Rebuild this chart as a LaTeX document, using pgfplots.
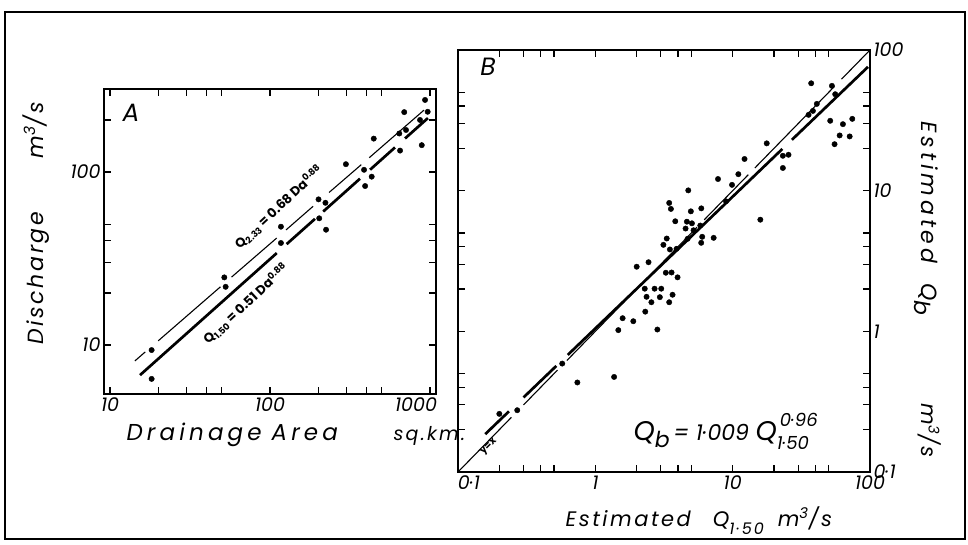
\documentclass[border=0pt]{standalone}
\usepackage{fontspec}
\setmainfont{Poppins}
\newfontfamily\lab{Poppins}[LetterSpace=12]
\newfontfamily\labw{Poppins}[LetterSpace=18]
\usepackage{pgfplots}
\usepackage{pgfplotstable}
\pgfplotsset{compat=1.18}

% panel A: drainage area (sq.km) vs discharge (m3/s)
\pgfplotstableread{
x y
18.2 9.35
18.2 6.37
51.8 24.6
52.8 21.7
117 48.3
117 38.9
201 69.5
222 66.4
203 54.0
224 46.4
298 111
387 103
393 83
432 94
445 156
643 167
650 133
690 222
708 175
866 200
888 143
931 261
967 223
}\ptsA

% panel B: estimated Q1.50 vs estimated Qb
\pgfplotstableread{
x y
37.3 58.0
52.8 55.6
55.8 48.5
41.0 41.4
38.4 36.9
35.7 34.6
51.3 31.4
74.3 32.4
63.5 29.7
60.1 24.7
71.1 24.3
55.2 21.4
17.7 21.7
23.2 17.7
25.5 18.0
23.2 14.5
12.2 16.8
11.0 13.1
9.89 11.0
7.82 12.1
8.94 8.4
15.9 6.22
4.75 10.05
3.45 8.18
3.55 7.42
4.96 7.13
5.91 7.49
3.82 6.06
4.64 6.02
5.05 5.86
4.54 5.38
5.19 5.23
5.81 5.65
7.27 4.62
4.7 4.55
6.0 4.70
5.9 4.26
3.31 4.57
3.13 4.12
3.49 3.82
3.90 3.86
2.0 2.88
2.44 3.1
3.26 2.61
3.59 2.62
3.97 2.42
2.29 2.01
2.70 2.01
3.02 2.01
2.36 1.76
2.95 1.75
3.65 1.82
2.56 1.61
3.45 1.61
2.31 1.38
1.58 1.24
1.89 1.18
1.47 1.02
2.83 1.03
1.37 0.474
0.74 0.433
0.574 0.59
0.27 0.275
0.20 0.259
}\ptsB

\tikzset{
  dotmk/.style={only marks, mark=*, mark size=2.7pt, black},
  heavyln/.style={black, line width=2.7pt, no marks},
  lightln/.style={black, line width=1.1pt, no marks},
}

\begin{document}
\begin{tikzpicture}
\useasboundingbox (0pt,0pt) rectangle (968pt,544pt);
\draw[line width=1.6pt] (5pt,532pt) rectangle (965pt,5pt);

\begin{axis}[xmode=log, ymode=log, scale only axis,
  axis line style={line width=2pt},
  tick align=inside,
  major tick length=7pt, minor tick length=7pt,
  tick style={line width=1.2pt, black},
  tick label style={font=\itshape\fontsize{19}{19}\selectfont},
  at={(104pt,150pt)}, anchor=south west,
  width=332pt, height=305pt,
  xmin=9.17, xmax=1090, ymin=5.21, ymax=302,
  xtick={10,100,1000}, xticklabels={10,100,\hspace*{-28pt}1000},
  minor xtick={20,30,40,50,200,300,400,500},
  ytick={10,100}, yticklabels={10,100},
  minor ytick={20,30,40,50,200}]
\addplot[dotmk] table {\ptsA};
% Q2.33 line, thin, broken at the points
\addplot[lightln] coordinates {(14.3,8.09) (16.6,9.12)};
\addplot[lightln] coordinates {(20,10.57) (49,21.7)};
\addplot[lightln] coordinates {(57.5,24.7) (110,41.5)};
\addplot[lightln] coordinates {(126,46.3) (186,63.4)};
\addplot[lightln] coordinates {(234,76.2) (372,110.3)};
\addplot[lightln] coordinates {(417,121) (917,228)};
% Q1.50 line, thick
\addplot[heavyln] coordinates {(15.4,6.70) (110.2,34.0)};
\addplot[heavyln] coordinates {(127,38.3) (191,53.6)};
\addplot[heavyln] coordinates {(215,59.1) (365,91.5)};
\addplot[heavyln] coordinates {(422,103.1) (604,138.7)};
\addplot[heavyln] coordinates {(698,156.3) (970,205)};
\end{axis}

\begin{axis}[xmode=log, ymode=log, scale only axis,
  axis line style={line width=2pt},
  tick align=inside,
  major tick length=7pt, minor tick length=7pt,
  tick style={line width=1.2pt, black},
  tick label style={font=\itshape\fontsize{19}{19}\selectfont},
  at={(458pt,72pt)}, anchor=south west,
  width=412pt, height=422pt,
  xmin=0.1, xmax=100, ymin=0.1, ymax=100,
  xtick={0.1,1,10,100}, xticklabels={\hspace*{22pt}0·1,1,10,100},
  minor xtick={0.2,0.3,0.4,0.5,2,3,4,5,20,30,40,50},
  ytick={0.1,1,10,100}, yticklabels={0·1,1,10,100},
  minor ytick={0.2,0.3,0.4,0.5,2,3,4,5,20,30,40,50},
  yticklabel pos=right]
\addplot[dotmk] table {\ptsB};
% y = x, thin
\addplot[lightln] coordinates {(0.1,0.1) (0.245,0.245)};
\addplot[lightln] coordinates {(0.30,0.30) (0.53,0.53)};
\addplot[lightln] coordinates {(0.62,0.62) (5.5,5.5)};
\addplot[lightln] coordinates {(6.2,6.2) (13,13)};
\addplot[lightln] coordinates {(14.5,14.5) (55,55)};
\addplot[lightln] coordinates {(62,62) (100,100)};
% Qb = 1.009 Q1.50^0.96, thick
\addplot[heavyln] coordinates {(0.158,0.186) (0.235,0.270)};
\addplot[heavyln] coordinates {(0.30,0.339) (0.52,0.568)};
\addplot[heavyln] coordinates {(0.63,0.680) (23,19.8)};
\addplot[heavyln] coordinates {(27,23.0) (96.7,75.9)};
\end{axis}

% panel letters and equations
\node[font=\itshape\fontsize{25}{25}\selectfont] at (131pt,431pt) {A};
\node[font=\itshape\fontsize{25}{25}\selectfont] at (488pt,477pt) {B};
\node[rotate=43, font=\bfseries\fontsize{13}{13}\selectfont] at (279pt,337pt)
  {Q\textsubscript{2.33} = 0.68 Da\textsuperscript{0.88}};
\node[rotate=43, font=\bfseries\fontsize{13}{13}\selectfont] at (246pt,240pt)
  {Q\textsubscript{1.50} = 0.51 Da\textsuperscript{0.88}};
\node[rotate=45, font=\bfseries\fontsize{10}{10}\selectfont] at (489pt,97pt) {y=x};
\node[anchor=base west, font=\itshape\fontsize{22}{22}\selectfont] at (630pt,104pt)
  {{\fontsize{27}{27}\selectfont Q}\raisebox{-7pt}{b}\,= 1·009 {\fontsize{27}{27}\selectfont Q}\raisebox{-9pt}{\rlap{\fontsize{18}{18}\selectfont 1·50}}\raisebox{14pt}{\fontsize{18}{18}\selectfont\,0·96}};

% axis titles
\node[rotate=90, anchor=base west, font=\lab\itshape\fontsize{22}{22}\selectfont] at (43pt,196pt) {Discharge};
\node[rotate=90, anchor=base west, font=\lab\itshape\fontsize{22}{22}\selectfont] at (43pt,382pt) {m\textsuperscript{3}/s};
\node[anchor=base west, font=\labw\itshape\fontsize{23}{23}\selectfont] at (123pt,104pt) {Drainage\hspace{10pt}Area};
\node[anchor=base west, font=\lab\itshape\fontsize{19}{19}\selectfont] at (390pt,104pt) {sq.km.};
\node[anchor=base west, font=\lab\itshape\fontsize{21}{21}\selectfont] at (562pt,18pt)
  {Estimated\hspace{22pt}Q\raisebox{-8pt}{\fontsize{16}{16}\selectfont 1·50}\hspace{14pt}m\textsuperscript{3}/s};
\node[rotate=-90, anchor=base west, font=\labw\itshape\fontsize{22}{22}\selectfont] at (921pt,426pt)
  {Estimated\hspace{20pt}Q\raisebox{-7pt}{b}};
\node[rotate=-90, anchor=base west, font=\lab\itshape\fontsize{21}{21}\selectfont] at (921pt,144pt) {m\textsuperscript{3}/s};
\end{tikzpicture}
\end{document}
